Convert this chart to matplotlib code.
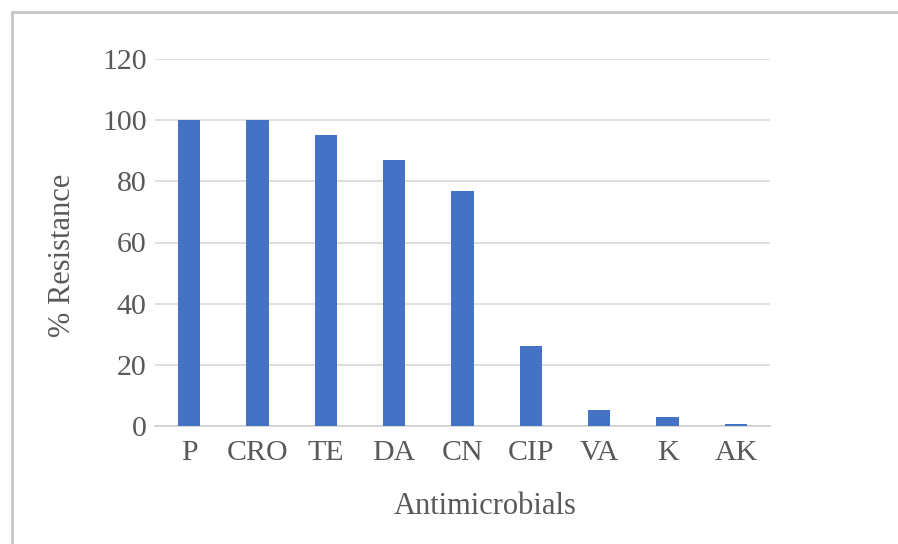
import matplotlib.pyplot as plt
from matplotlib.lines import Line2D

# 데이터
drugs = ['P', 'CRO', 'TE', 'DA', 'CN', 'CIP', 'VA', 'K', 'AK']
resistance = [100, 100, 95, 87, 77, 26, 5.3, 2.9, 0.8]
yticks = [0, 20, 40, 60, 80, 100, 120]

plt.rcParams['font.family'] = ['Liberation Serif', 'DejaVu Serif']
txt_c = '#595959'

fig = plt.figure(figsize=(8.98, 5.44), dpi=100)
ax = fig.add_axes([155 / 898, 1 - 426 / 544, 615 / 898, 367 / 544])

ax.bar(drugs, resistance, width=0.33, color='#4472C4', zorder=3)
ax.set_ylim(0, 120)
ax.set_xlim(-0.5, len(drugs) - 0.5)
ax.set_yticks(yticks)
ax.grid(axis='y', color='#d9d9d9', linewidth=1.2, zorder=0)

for s in ['top', 'right', 'left']:
    ax.spines[s].set_visible(False)
ax.spines['bottom'].set_color('#d0d0d0')
ax.spines['bottom'].set_linewidth(1.2)
ax.tick_params(length=0, labelsize=21.5, colors=txt_c)
ax.tick_params(axis='x', pad=10)
ax.tick_params(axis='y', pad=6)

ax.set_ylabel('% Resistance', fontsize=22, color=txt_c, va='center')
ax.set_xlabel('Antimicrobials', fontsize=22, color=txt_c, va='center')
ax.yaxis.set_label_coords((63 - 155) / 615, (426 - 255) / 367)
ax.xaxis.set_label_coords((485 - 155) / 615, -(507 - 426) / 367)

# 바깥 테두리 (왼쪽, 위)
fig.add_artist(Line2D([12 / 898, 12 / 898], [0, 1 - 12 / 544], color='#c8c8c8', lw=2))
fig.add_artist(Line2D([12 / 898, 1], [1 - 12 / 544, 1 - 12 / 544], color='#c8c8c8', lw=2))

fig.savefig('out.png', dpi=100, facecolor='white')
